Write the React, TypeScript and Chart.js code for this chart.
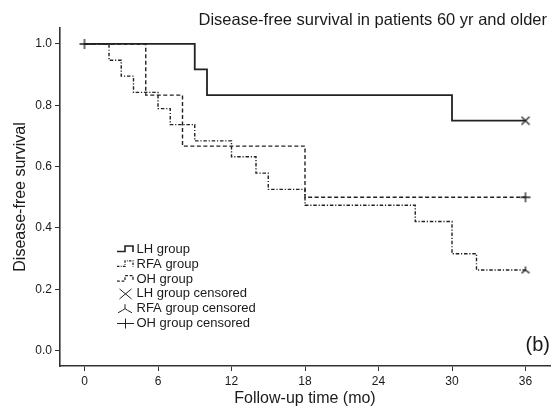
import React, { useEffect, useRef } from 'react';
import { Chart, registerables } from 'chart.js';

Chart.register(...registerables);

const FONT = '"Liberation Sans", Arial, sans-serif';
const INK = '#1a1a1a';
const LINE = '#222222';

const TITLE = 'Disease-free survival in patients 60 yr and older';
const X_TITLE = 'Follow-up time (mo)';
const Y_TITLE = 'Disease-free survival';
const PANEL_LABEL = '(b)';

const X_TICKS = [0, 6, 12, 18, 24, 30, 36];
const Y_TICKS = [0, 0.2, 0.4, 0.6, 0.8, 1.0];

const LH_TIME = [0, 9, 10, 30, 36];
const LH_SURV = [1, 0.917, 0.833, 0.75, 0.75];

const RFA_TIME = [0, 2, 3, 4, 6, 7, 9, 12, 14, 15, 18, 27, 30, 32, 36];
const RFA_SURV = [1, 0.947, 0.895, 0.842, 0.789, 0.737, 0.684, 0.632, 0.579, 0.526, 0.474, 0.421, 0.316, 0.263, 0.263];

const OH_TIME = [0, 5, 8, 18, 36];
const OH_SURV = [1, 0.833, 0.667, 0.5, 0.5];

const LH_CENS_TIME = [36];
const LH_CENS_SURV = [0.75];
const RFA_CENS_TIME = [36];
const RFA_CENS_SURV = [0.263];
const OH_CENS_TIME = [0, 36];
const OH_CENS_SURV = [1, 0.5];

const LEGEND_LABELS = [
  'LH group',
  'RFA group',
  'OH group',
  'LH group censored',
  'RFA group censored',
  'OH group censored',
];

const DASH_LH: number[] = [];
const DASH_RFA = [3.5, 1.8, 1.2, 1.8];
const DASH_OH = [4, 2.5];

type MarkerKind = 'x' | 'plus' | 'tri';

function drawMarker(ctx: CanvasRenderingContext2D, kind: MarkerKind, cx: number, cy: number, rx: number, ry: number) {
  ctx.beginPath();
  if (kind === 'x') {
    ctx.moveTo(cx - rx, cy - ry);
    ctx.lineTo(cx + rx, cy + ry);
    ctx.moveTo(cx + rx, cy - ry);
    ctx.lineTo(cx - rx, cy + ry);
  } else if (kind === 'plus') {
    ctx.moveTo(cx - rx, cy);
    ctx.lineTo(cx + rx, cy);
    ctx.moveTo(cx, cy - ry);
    ctx.lineTo(cx, cy + ry);
  } else {
    ctx.moveTo(cx, cy - ry);
    ctx.lineTo(cx, cy);
    ctx.moveTo(cx - rx, cy + ry * 0.9);
    ctx.quadraticCurveTo(cx - rx * 0.25, cy + ry * 0.3, cx, cy);
    ctx.quadraticCurveTo(cx + rx * 0.25, cy + ry * 0.3, cx + rx, cy + ry * 0.9);
  }
  ctx.stroke();
}

function makeMarker(kind: MarkerKind, w: number, h: number): HTMLCanvasElement {
  const c = document.createElement('canvas');
  c.width = w;
  c.height = h;
  const ctx = c.getContext('2d')!;
  ctx.strokeStyle = LINE;
  ctx.lineWidth = 1.3;
  drawMarker(ctx, kind, w / 2, h / 2, w / 2 - 1, h / 2 - 1);
  return c;
}

function pts(xs: number[], ys: number[]) {
  return xs.map((x, i) => ({ x, y: ys[i] }));
}

export default function App() {
  const ref = useRef<HTMLCanvasElement | null>(null);

  useEffect(() => {
    if (!ref.current) return;
    const xMark = makeMarker('x', 10, 10);
    const plusMark = makeMarker('plus', 12, 12);
    const triMark = makeMarker('tri', 10, 9);

    const overlay = {
      id: 'overlay',
      afterDraw(chart: any) {
        const ctx: CanvasRenderingContext2D = chart.ctx;
        ctx.save();
        ctx.fillStyle = INK;
        // title
        ctx.font = `16.5px ${FONT}`;
        ctx.textAlign = 'right';
        ctx.textBaseline = 'alphabetic';
        ctx.fillText(TITLE, 547, 25);
        // panel label
        ctx.font = `20px ${FONT}`;
        ctx.textBaseline = 'middle';
        ctx.fillText(PANEL_LABEL, 550, 345);
        // legend
        ctx.font = `13px ${FONT}`;
        ctx.textAlign = 'left';
        ctx.strokeStyle = LINE;
        const dashes = [DASH_LH, DASH_RFA, DASH_OH];
        const kinds: MarkerKind[] = ['x', 'tri', 'plus'];
        for (let i = 0; i < LEGEND_LABELS.length; i++) {
          const y = 249.5 + i * 14.8;
          ctx.fillText(LEGEND_LABELS[i], 136.5, y);
          if (i < 3) {
            ctx.save();
            ctx.lineWidth = i === 0 ? 1.6 : 1.3;
            ctx.setLineDash(dashes[i].map((d) => d * 0.7));
            ctx.beginPath();
            ctx.moveTo(117, y + 2);
            ctx.lineTo(125, y + 2);
            ctx.lineTo(125, y - 3.5);
            ctx.lineTo(133, y - 3.5);
            ctx.lineTo(133, y + 2.5);
            ctx.stroke();
            ctx.restore();
          } else {
            const k = kinds[i - 3];
            ctx.lineWidth = 1;
            if (k === 'plus') drawMarker(ctx, k, 125.5, y, 8.5, 5);
            else if (k === 'x') drawMarker(ctx, k, 125.5, y, 6, 5);
            else drawMarker(ctx, k, 125, y, 7, 4.5);
          }
        }
        ctx.restore();
      },
    };

    const chart = new Chart(ref.current, {
      type: 'line',
      data: {
        datasets: [
          {
            label: LEGEND_LABELS[0],
            data: pts(LH_TIME, LH_SURV),
            stepped: 'before',
            borderColor: LINE,
            borderWidth: 1.8,
            borderDash: DASH_LH,
            pointRadius: 0,
            fill: false,
          },
          {
            label: LEGEND_LABELS[1],
            data: pts(RFA_TIME, RFA_SURV),
            stepped: 'before',
            borderColor: LINE,
            borderWidth: 1.4,
            borderDash: DASH_RFA,
            pointRadius: 0,
            fill: false,
          },
          {
            label: LEGEND_LABELS[2],
            data: pts(OH_TIME, OH_SURV),
            stepped: 'before',
            borderColor: LINE,
            borderWidth: 1.4,
            borderDash: DASH_OH,
            pointRadius: 0,
            fill: false,
          },
          {
            label: LEGEND_LABELS[3],
            data: pts(LH_CENS_TIME, LH_CENS_SURV),
            showLine: false,
            pointStyle: xMark,
            pointRadius: 5,
          },
          {
            label: LEGEND_LABELS[4],
            data: pts(RFA_CENS_TIME, RFA_CENS_SURV),
            showLine: false,
            pointStyle: triMark,
            pointRadius: 5,
          },
          {
            label: LEGEND_LABELS[5],
            data: pts(OH_CENS_TIME, OH_CENS_SURV),
            showLine: false,
            pointStyle: plusMark,
            pointRadius: 6,
          },
        ],
      } as any,
      options: {
        animation: false,
        responsive: false,
        devicePixelRatio: 1,
        layout: { padding: { top: 28, left: 0, right: 0, bottom: 0 } },
        plugins: {
          legend: { display: false },
          title: { display: false },
          tooltip: { enabled: false },
        },
        scales: {
          x: {
            type: 'linear',
            min: -2,
            max: 38,
            afterBuildTicks: (scale: any) => {
              scale.ticks = X_TICKS.map((v) => ({ value: v }));
            },
            afterFit: (scale: any) => {
              scale.height = 48;
            },
            grid: {
              drawOnChartArea: false,
              drawTicks: true,
              tickLength: 5,
              tickColor: '#333',
              tickWidth: 1,
            },
            border: { display: true, color: '#333', width: 1.6 },
            ticks: {
              font: { family: FONT, size: 12 },
              color: INK,
              padding: 3,
              maxRotation: 0,
              autoSkip: false,
              callback: (v: any) => String(v),
            },
            title: {
              display: true,
              text: X_TITLE,
              font: { family: FONT, size: 16 },
              color: INK,
              padding: { top: 0, bottom: 6 },
            },
          },
          y: {
            type: 'linear',
            min: -0.05,
            max: 1.052,
            afterBuildTicks: (scale: any) => {
              scale.ticks = Y_TICKS.map((v) => ({ value: v }));
            },
            afterFit: (scale: any) => {
              scale.width = 60;
            },
            grid: {
              drawOnChartArea: false,
              drawTicks: true,
              tickLength: 5,
              tickColor: '#333',
              tickWidth: 1,
            },
            border: { display: true, color: '#333', width: 1.6 },
            ticks: {
              font: { family: FONT, size: 12 },
              color: INK,
              padding: 3,
              autoSkip: false,
              callback: (v: any) => Number(v).toFixed(1),
            },
            title: {
              display: true,
              text: Y_TITLE,
              font: { family: FONT, size: 16 },
              color: INK,
              padding: { top: 11, bottom: 0 },
            },
          },
        },
      } as any,
      plugins: [overlay],
    });
    return () => chart.destroy();
  }, []);

  return (
    <div style={{ position: 'fixed', left: 0, top: 0, width: 557, height: 414, background: '#fff' }}>
      <canvas ref={ref} width={557} height={414} style={{ display: 'block' }} />
    </div>
  );
}
